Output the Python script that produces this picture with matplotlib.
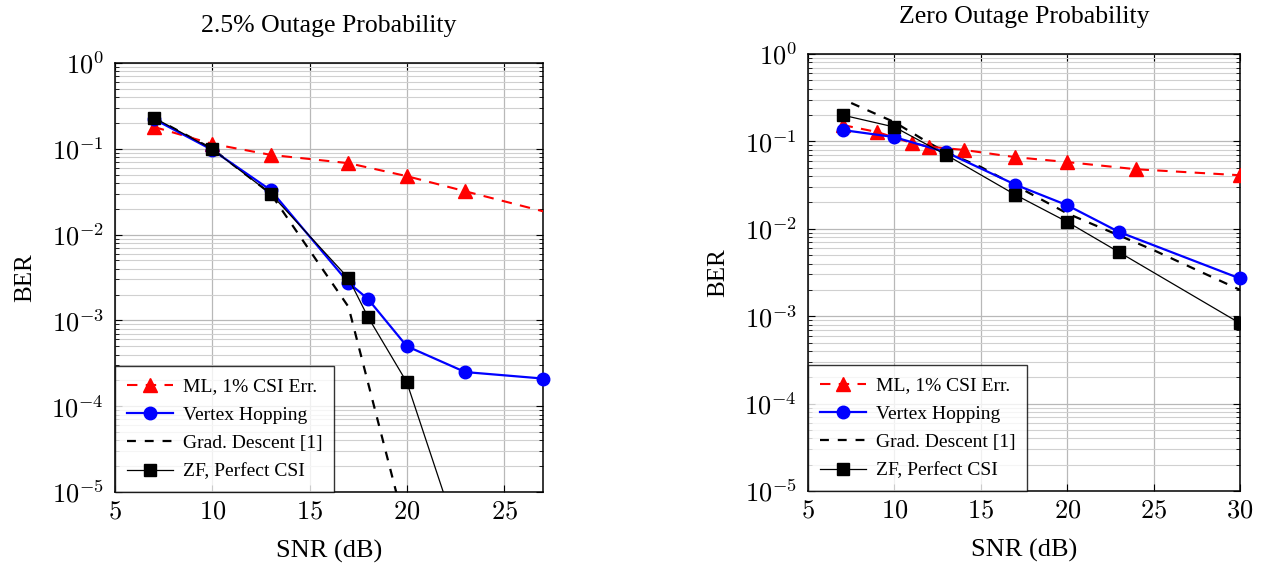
import matplotlib
matplotlib.use("Agg")
import math
import matplotlib.pyplot as plt
from matplotlib.ticker import LogLocator, NullFormatter, FuncFormatter

plt.rcParams['font.family'] = ['Liberation Serif', 'DejaVu Serif']
plt.rcParams['mathtext.fontset'] = 'cm'

# ---- Left: 2.5% outage ----
L_ml_x = [7, 10, 13, 17, 20, 23, 30]
L_ml_y = [0.18, 0.114, 0.085, 0.068, 0.048, 0.032, 0.0125]
L_vh_x = [7, 10, 13, 17, 18, 20, 23, 27]
L_vh_y = [0.222, 0.097, 0.033, 2.75e-3, 1.78e-3, 5.0e-4, 2.5e-4, 2.1e-4]
L_gd_x = [7, 10, 13, 17, 20]
L_gd_y = [0.23, 0.1, 0.030, 1.44e-3, 3.3e-6]
L_zf_x = [7, 10, 13, 17, 18, 20, 23]
L_zf_y = [0.23, 0.099, 0.030, 3.1e-3, 1.1e-3, 1.9e-4, 1.7e-6]

# ---- Right: zero outage ----
R_ml_x = [7, 9, 11, 12, 14, 17, 20, 24, 30]
R_ml_y = [0.154, 0.128, 0.096, 0.087, 0.080, 0.066, 0.058, 0.048, 0.041]
R_vh_x = [7, 10, 13, 17, 20, 23, 30]
R_vh_y = [0.135, 0.112, 0.075, 0.032, 0.0186, 0.0092, 2.7e-3]
R_gd_x = [7.5, 10, 12, 13, 15, 20, 25, 30]
R_gd_y = [0.275, 0.166, 0.096, 0.075, 0.051, 0.015, 5.7e-3, 2.0e-3]
R_zf_x = [7, 10, 13, 17, 20, 23, 30]
R_zf_y = [0.20, 0.146, 0.070, 0.0245, 0.012, 5.4e-3, 8.3e-4]

labels = ['ML, 1% CSI Err.', 'Vertex Hopping', 'Grad. Descent [1]', 'ZF, Perfect CSI']
titles = ['2.5% Outage Probability', 'Zero Outage Probability']

W, H = 1271, 563
fig = plt.figure(figsize=(W / 100, H / 100), dpi=100)
axL = fig.add_axes([115 / W, 1 - 492 / H, 428 / W, 429 / H])
axR = fig.add_axes([808 / W, 1 - 491 / H, 432 / W, 437 / H])

def xfmt(v, pos):
    return r'$%d$' % int(round(v))

def yfmt(v, pos):
    e = int(round(math.log10(v)))
    return r'$10^{%d}$' % e

def draw(ax, ml, vh, gd, zf, xlim, xticks, title, title_pad):
    ax.plot(ml[0], ml[1], color='#ff0000', ls=(0, (5, 4)), lw=1.5, marker='^', ms=10,
            label=labels[0], zorder=4)
    ax.plot(vh[0], vh[1], color='#0000ff', ls='-', lw=1.6, marker='o', ms=9,
            label=labels[1], clip_on=False, zorder=5)
    ax.plot(gd[0], gd[1], color='black', ls=(0, (4, 4)), lw=1.6, label=labels[2], zorder=3)
    ax.plot(zf[0], zf[1], color='black', ls='-', lw=0.9, marker='s', ms=8,
            label=labels[3], zorder=6)
    ax.set_yscale('log')
    ax.set_xlim(*xlim)
    ax.set_ylim(1e-5, 1)
    ax.set_xticks(xticks)
    ax.set_yticks([1e-5, 1e-4, 1e-3, 1e-2, 1e-1, 1])
    ax.xaxis.set_major_formatter(FuncFormatter(xfmt))
    ax.yaxis.set_major_formatter(FuncFormatter(yfmt))
    ax.yaxis.set_minor_locator(LogLocator(base=10, subs=range(2, 10), numticks=20))
    ax.yaxis.set_minor_formatter(NullFormatter())
    ax.grid(True, which='major', color='#b8b8b8', lw=0.9)
    ax.grid(True, which='minor', axis='y', color='#d0d0d0', lw=0.8)
    ax.set_axisbelow(True)
    ax.tick_params(which='both', direction='in', top=True, right=True, labelsize=19)
    ax.tick_params(which='major', length=5)
    ax.tick_params(which='minor', length=3)
    ax.tick_params(axis='x', pad=7)
    ax.tick_params(axis='y', pad=8)
    for s in ax.spines.values():
        s.set_linewidth(1.1)
    ax.set_xlabel('SNR (dB)', fontsize=19, labelpad=12)
    ax.set_ylabel('BER', fontsize=18, labelpad=11)
    ax.set_title(title, fontsize=18.5, pad=title_pad)
    leg = ax.legend(loc='lower left', fontsize=14, frameon=True, fancybox=False,
                    borderaxespad=0.0, handlelength=2.4, labelspacing=0.55,
                    borderpad=0.6, handletextpad=0.5)
    leg.get_frame().set_edgecolor('black')
    leg.get_frame().set_linewidth(1.0)
    leg.set_zorder(10)

draw(axL, (L_ml_x, L_ml_y), (L_vh_x, L_vh_y), (L_gd_x, L_gd_y), (L_zf_x, L_zf_y),
     (5, 27), [5, 10, 15, 20, 25], titles[0], 22)
draw(axR, (R_ml_x, R_ml_y), (R_vh_x, R_vh_y), (R_gd_x, R_gd_y), (R_zf_x, R_zf_y),
     (5, 30), [5, 10, 15, 20, 25, 30], titles[1], 22)

fig.savefig('out.png', dpi=100)
